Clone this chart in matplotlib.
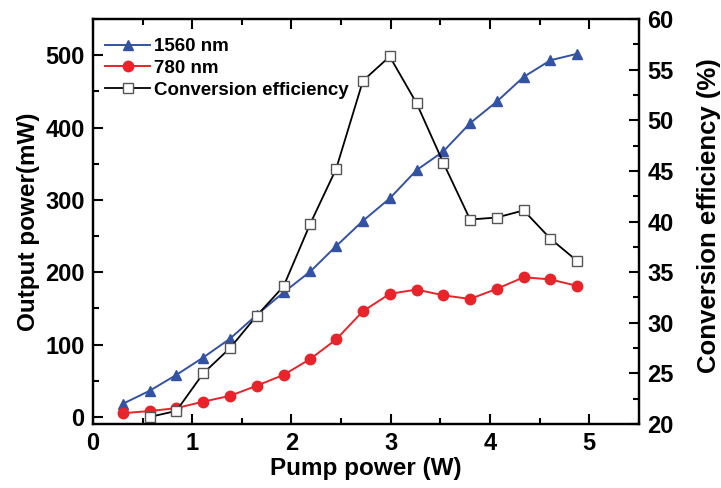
import matplotlib
matplotlib.use("Agg")
import matplotlib.pyplot as plt
from matplotlib.ticker import MultipleLocator

plt.rcParams['font.family'] = ['Liberation Sans', 'DejaVu Sans']
plt.rcParams['font.weight'] = 'bold'

# Pump power (W)
pump = [0.30, 0.57, 0.84, 1.11, 1.38, 1.65, 1.92, 2.19, 2.45,
        2.72, 2.99, 3.26, 3.53, 3.80, 4.07, 4.34, 4.61, 4.88]
# Output power (mW)
p1560 = [18, 36, 58, 82, 108, 141, 172, 201, 236,
         271, 302, 341, 367, 406, 436, 470, 493, 502]
p780 = [5, 8, 12, 21, 29, 43, 58, 80, 107,
        146, 170, 176, 168, 163, 177, 193, 190, 181]
# Conversion efficiency (%) starting from the second pump level
pump_eff = pump[1:]
eff = [20.7, 21.3, 25.0, 27.5, 30.7, 33.6, 39.8, 45.2,
       53.9, 56.3, 51.7, 45.8, 40.2, 40.4, 41.1, 38.3, 36.1]

blue = '#3452a4'
red = '#e8232a'

fig = plt.figure(figsize=(7.21, 4.88), dpi=100)
ax = fig.add_axes([0.129, 0.131, 0.757, 0.830])
ax2 = ax.twinx()

l1, = ax.plot(pump, p1560, '-^', color=blue, lw=1.4, ms=7.5, label='1560 nm')
l2, = ax.plot(pump, p780, '-o', color=red, lw=1.4, ms=7.5, label='780 nm')
l3, = ax2.plot(pump_eff, eff, '-s', color='black', lw=1.3, ms=7,
               mfc='white', mec='#555555', mew=1.0, label='Conversion efficiency')

ax.set_xlim(0, 5.5)
ax.set_ylim(-10, 550)
ax2.set_ylim(20, 60)

ax.xaxis.set_major_locator(MultipleLocator(1))
ax.xaxis.set_minor_locator(MultipleLocator(0.5))
ax.yaxis.set_major_locator(MultipleLocator(100))
ax.yaxis.set_minor_locator(MultipleLocator(50))
ax2.yaxis.set_major_locator(MultipleLocator(5))
ax2.yaxis.set_minor_locator(MultipleLocator(2.5))

for a in (ax, ax2):
    for s in a.spines.values():
        s.set_linewidth(1.6)

ax.tick_params(which='both', direction='in', width=1.5, labelsize=17,
               top=True, right=False, pad=6)
ax.tick_params(which='major', length=7)
ax.tick_params(which='minor', length=4)
ax.tick_params(axis='x', which='both', top=True)
ax2.tick_params(which='both', direction='in', width=1.5, labelsize=17, pad=6)
ax2.tick_params(which='major', length=7)
ax2.tick_params(which='minor', length=4)

ax.set_xlabel('Pump power (W)', fontsize=17.5, fontweight='bold', labelpad=1)
ax.set_ylabel('Output power(mW)', fontsize=17.5, fontweight='bold', labelpad=4)
ax2.set_ylabel('Conversion efficiency (%)', fontsize=18.5, fontweight='bold')
ax2.yaxis.set_label_coords(1.106, 0.514)

ax.legend(handles=[l1, l2, l3], loc='upper left', frameon=False,
          fontsize=13.5, handlelength=2.4, handletextpad=0.2,
          labelspacing=0.25, borderaxespad=0.4, bbox_to_anchor=(-0.005, 0.99))

fig.savefig('out.png', dpi=100)
